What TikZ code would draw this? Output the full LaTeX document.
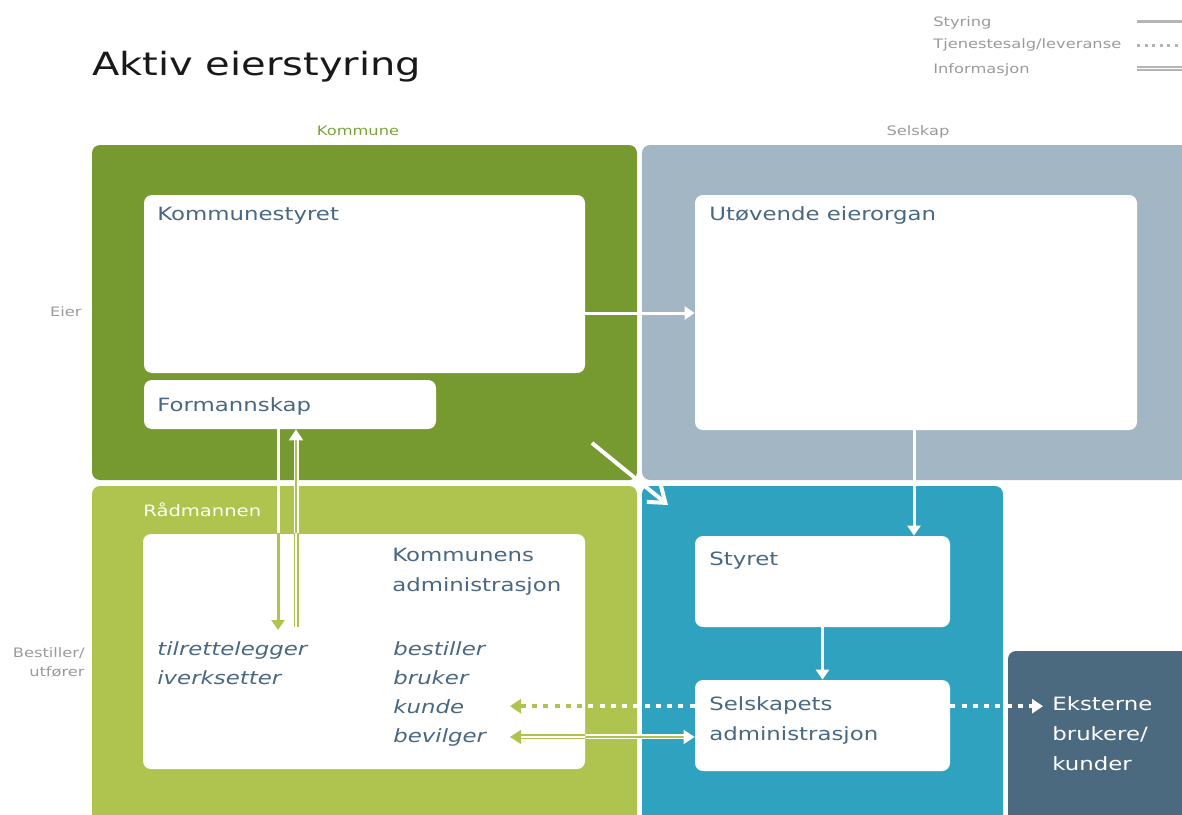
\documentclass[tikz,border=0pt]{standalone}
\usepackage{fontspec}
\setmainfont{DejaVu Sans}[FakeStretch=1.25]
\usetikzlibrary{arrows.meta,fit}
\definecolor{eiergreen}{HTML}{769A2F}
\definecolor{admingreen}{HTML}{AEC44F}
\definecolor{eierblue}{HTML}{A2B6C3}
\definecolor{selskteal}{HTML}{2EA2BE}
\definecolor{ekstslate}{HTML}{4B6A80}
\definecolor{boxtext}{HTML}{4A6882}
\definecolor{sidegray}{HTML}{9A9A9A}
\definecolor{linegray}{HTML}{B4B4B4}
\definecolor{kommtext}{HTML}{7DA23A}
\tikzset{
  zone/.style={rounded corners=1.6mm},
  wbox/.style={fill=white, rounded corners=1.6mm, inner sep=0pt},
  boxlabel/.style={anchor=base west, inner sep=0pt, text=boxtext, align=left,
    font=\fontsize{10.4}{16.8}\selectfont},
  role/.style={boxlabel, font=\fontsize{10.4}{16.8}\selectfont\itshape},
  side/.style={inner sep=0pt, text=sidegray, font=\fontsize{7.4}{10.6}\selectfont},
  styr/.style={line width=0.6mm, -{Triangle[length=2mm,width=2.6mm]}},
  tjen/.style={line width=0.9mm, dash pattern=on 1mm off 1.25mm,
    -{Triangle[length=2.2mm,width=2.8mm]}},
  info/.style={line width=0.3mm, double distance=0.4mm,
    -{Triangle[length=2.2mm,width=2.8mm]}},
}
% lines that cross the white box of the administration: #1 line, #2 gap
\newcommand{\adminlinks}[2]{%
  \draw[styr, draw=#1] (form.south -| ned) -- (ned);
  \draw[info, draw=#1, double=#2] (opp) -- (form.south -| opp);
  \draw[tjen, draw=#1] (sadm.west |- kunde.east) -- (tipx |- kunde.east);
  \draw[info, draw=#1, double=#2, {Triangle[length=2.2mm,width=2.8mm]}-{Triangle[length=2.2mm,width=2.8mm]}]
    (tipx |- bevilger.east) -- (sadm.west |- bevilger.east);
}
\begin{document}
\begin{tikzpicture}[x=0.2mm, y=-0.2mm]
  \useasboundingbox (0,0) rectangle (1182,815);
  \clip (0,0) rectangle (1182,815);
  % Zones
  \fill[zone, eiergreen] (92,145) rectangle (637,480);
  \fill[zone, eierblue] (642,145) rectangle (1220,480);
  \fill[zone, admingreen] (92,486) rectangle (637,840);
  \fill[zone, selskteal] (642,486) rectangle (1003,840);
  \fill[zone, ekstslate] (1008,651) rectangle (1220,840);
  % Title and legend
  \node[anchor=base west, inner sep=0pt, text=black!90,
    font=\fontsize{18.2}{22}\selectfont] (title) at (92,75) {Aktiv eierstyring};
  \node[side, anchor=base west] (lstyr) at (933,26) {Styring};
  \node[side, anchor=base west] (ltjen) at (933,49) {Tjenestesalg/leveranse};
  \node[side, anchor=base west] (linfo) at (933,73) {Informasjon};
  \coordinate (leg) at (1137,0);
  \draw[line width=0.6mm, linegray] (leg |- 0,21.5) -- ++(60,0);
  \draw[line width=0.6mm, linegray, dash pattern=on 0.6mm off 0.9mm] (leg |- 0,45) -- ++(60,0);
  \draw[line width=0.3mm, linegray, double distance=0.35mm] (leg |- 0,68.5) -- ++(60,0);
  % Side labels (multi-line nodes sit on their last baseline)
  \node[side, text=kommtext, anchor=base] (kommlbl) at (358,135) {Kommune};
  \node[side, anchor=base] (selsklbl) at (918,135) {Selskap};
  \node[side, anchor=base east] (eierlbl) at (82,316) {Eier};
  \node[side, anchor=base east, align=right] (bestlbl) at (85,676) {Bestiller/\\utfører};
  % White boxes
  \node[wbox, fit={(144,195) (585,373)}] (kstyre) {};
  \node[wbox, fit={(144,380) (436,429)}] (form) {};
  \node[wbox, fit={(695,195) (1137,430)}] (eierorg) {};
  \node[wbox, fit={(143,534) (585,769)}] (kadm) {};
  \node[wbox, fit={(695,536) (950,627)}] (styret) {};
  \node[wbox, fit={(695,680) (950,771)}] (sadm) {};
  % Box texts
  \node[boxlabel] (kstyrelbl) at (157,220) {Kommunestyret};
  \node[boxlabel] (formlbl) at (157,411) {Formannskap};
  \node[boxlabel] (eierorglbl) at (709,220) {Utøvende eierorgan};
  \node[boxlabel] (styretlbl) at (709,565) {Styret};
  \node[boxlabel] (sadmlbl) at (709,740) {Selskapets\\administrasjon};
  \node[boxlabel] (kadmlbl) at (392,591) {Kommunens\\administrasjon};
  \node[anchor=base west, inner sep=0pt, text=white!95!yellow,
    font=\fontsize{8.9}{12}\selectfont] (raadlbl) at (143,516) {Rådmannen};
  \node[boxlabel, text=white] (ekst) at (1052,770) {Eksterne\\brukere/\\kunder};
  \foreach \w/\y in {tilrettelegger/655, iverksetter/684}
    \node[role] (\w) at (157,\y) {\w};
  \foreach \w/\y in {bestiller/655, bruker/684, kunde/713, bevilger/742}
    \node[role] (\w) at (393,\y) {\w};
  % Connectors
  \draw[styr, white] (kstyre.east |- 0,313) -- (eierorg.west |- 0,313);
  \draw[styr, white] (eierorg.south -| 914,0) -- (styret.north -| 914,0);
  \draw[styr, white] (styret.south) -- (sadm.north);
  \draw[tjen, white, shorten >=1.8mm] (sadm.east |- kunde.east) -- (ekst.west |- kunde.east);
  \coordinate (skraa1) at (592,443);
  \coordinate (skraa2) at (668,505);
  \draw[white, line width=0.8mm, -{Straight Barb[length=3mm,width=4.4mm]}] (skraa1) -- (skraa2);
  \coordinate (ned) at (278,630);
  \coordinate (opp) at (296,627);
  \coordinate (tipx) at (510,0);
  \adminlinks{white}{admingreen}
  \begin{scope}
    \clip (kadm.north west) rectangle (kadm.south east);
    \adminlinks{admingreen}{white}
  \end{scope}
\end{tikzpicture}
\end{document}
